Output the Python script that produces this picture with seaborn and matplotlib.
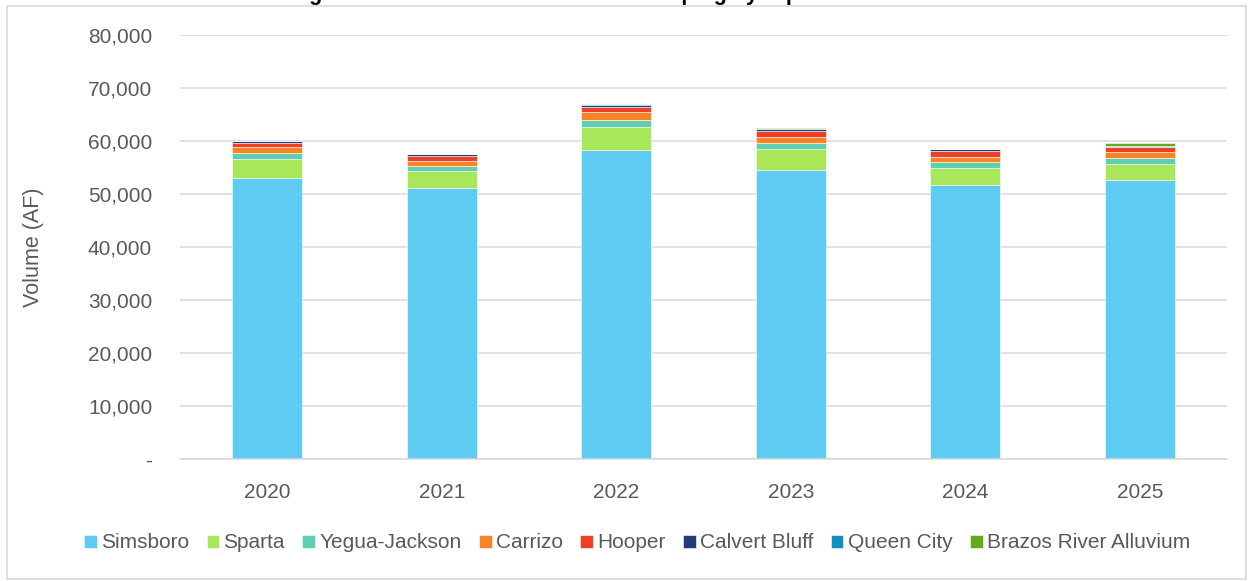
import matplotlib
matplotlib.use("Agg")
import matplotlib.pyplot as plt
import matplotlib.ticker as mticker
from matplotlib.patches import Rectangle
import numpy as np
import pandas as pd
import seaborn as sns

# Annual pumping volumes (acre-feet) by aquifer
years = ["2020", "2021", "2022", "2023", "2024", "2025"]
simsboro = [53080, 51200, 58310, 54530, 51700, 52650]
sparta = [3470, 3150, 4340, 4020, 3210, 3080]
yegua_jackson = [1245, 940, 1260, 1075, 1075, 1020]
carrizo = [1075, 940, 1620, 1075, 1060, 1190]
hooper = [810, 940, 945, 1130, 1075, 945]
calvert_bluff = [320, 320, 320, 377, 377, 60]
queen_city = [50, 40, 190, 100, 40, 40]
brazos_alluvium = [30, 20, 20, 150, 30, 700]

aquifers = ["Simsboro", "Sparta", "Yegua-Jackson", "Carrizo", "Hooper",
            "Calvert Bluff", "Queen City", "Brazos River Alluvium"]
series = [simsboro, sparta, yegua_jackson, carrizo, hooper,
          calvert_bluff, queen_city, brazos_alluvium]
colors = ["#5DCBF2", "#A8E65A", "#5ECFB0", "#F98424", "#EE4027",
          "#253A7D", "#1191BF", "#64A81E"]

yticks = [0, 10000, 20000, 30000, 40000, 50000, 60000, 70000, 80000]

df = pd.DataFrame({"Year": years})
for name, vals in zip(aquifers, series):
    df[name] = vals

sns.set_theme(style="white")
plt.rcParams["font.family"] = ["Liberation Sans", "DejaVu Sans"]

fig = plt.figure(figsize=(12.52, 5.81), dpi=100)
W, H = 1252, 581
ax = fig.add_axes([180 / W, 1 - 459 / H, (1227 - 180) / W, (459 - 35) / H])

bottom = np.zeros(len(years))
for name, col in zip(aquifers, colors):
    sns.barplot(data=df, x="Year", y=name, bottom=bottom, color=col,
                width=0.4, label=name, ax=ax, edgecolor="white",
                linewidth=0.4, saturation=1)
    bottom = bottom + df[name].to_numpy()

ax.set_ylim(0, 80000)
ax.set_yticks(yticks)
ax.yaxis.set_major_formatter(mticker.FuncFormatter(
    lambda v, p: "-" if v == 0 else f"{int(v):,}"))
ax.grid(axis="y", color="#D9D9D9", linewidth=1.1)
ax.set_axisbelow(True)
for s in ["left", "right", "top"]:
    ax.spines[s].set_visible(False)
ax.spines["bottom"].set_color("#D9D9D9")
ax.spines["bottom"].set_linewidth(1.1)
ax.tick_params(axis="both", length=0, labelsize=15, labelcolor="#595959")
ax.tick_params(axis="y", pad=20)
ax.tick_params(axis="x", pad=17)
ax.set_xlabel("")
ax.set_ylabel("Volume (AF)", fontsize=15.5, color="#595959", labelpad=32)
if ax.get_legend() is not None:
    ax.get_legend().remove()

handles, labels = ax.get_legend_handles_labels()
fig.legend(handles, labels, loc="center", bbox_to_anchor=(637 / W, 1 - 543 / H),
           ncol=8, frameon=False, fontsize=15, labelcolor="#595959",
           handlelength=0.6, handleheight=0.6, handletextpad=0.2,
           columnspacing=0.85, borderaxespad=0)

# Chart area border
fig.patches.append(Rectangle((7 / W, 1 - 579 / H), (1246 - 7) / W, (579 - 6) / H,
                             transform=fig.transFigure, fill=False,
                             edgecolor="#D9D9D9", linewidth=1.2))

fig.text(290 / W, 1.0, "Figure 3. Estimated Groundwater Pumping by Aquifer",
         ha="left", va="baseline", fontsize=15.5, fontweight="bold", color="black")

fig.savefig("out.png", dpi=100)
